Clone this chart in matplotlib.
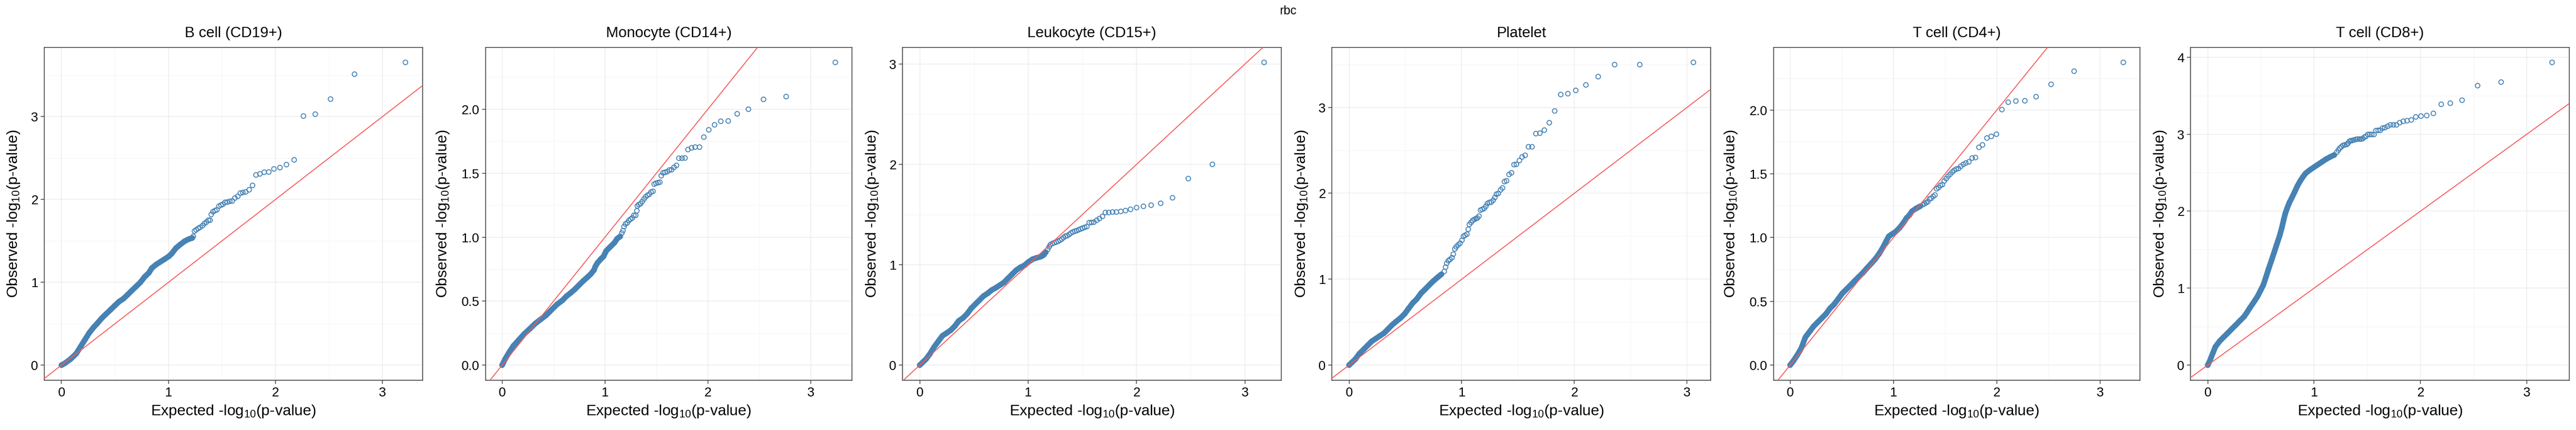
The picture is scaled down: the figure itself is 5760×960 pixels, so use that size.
import matplotlib.pyplot as plt
from matplotlib.ticker import MultipleLocator, FormatStrFormatter

plt.rcParams['font.family'] = ['Liberation Sans', 'DejaVu Sans']
plt.rcParams['mathtext.default'] = 'regular'

# panel titles, in the order they appear
cellNames = ['B cell (CD19+)', 'Monocyte (CD14+)', 'Leukocyte (CD15+)',
             'Platelet', 'T cell (CD4+)', 'T cell (CD8+)']

# each panel: dense part of the QQ curve (band) and the separate tail points
# values are expected / observed -log10(p)

# B cell (CD19+)
bcell_band_x = [0, 0.032, 0.085, 0.138, 0.178, 0.218, 0.258, 0.298, 0.338, 0.378, 0.418, 0.458,
                0.498, 0.538, 0.578, 0.618, 0.657, 0.697, 0.737, 0.777, 0.817, 0.844, 0.884,
                0.924, 0.964, 1.003, 1.030, 1.070, 1.110, 1.150, 1.190, 1.222]
bcell_band_y = [0, 0.023, 0.073, 0.139, 0.222, 0.304, 0.387, 0.453, 0.509, 0.569, 0.619, 0.668,
                0.718, 0.767, 0.801, 0.850, 0.900, 0.949, 0.999, 1.065, 1.115, 1.171, 1.214,
                1.247, 1.280, 1.313, 1.346, 1.413, 1.456, 1.495, 1.522, 1.535]
bcell_tail_x = [3.215, 2.739, 2.515, 2.372, 2.262, 2.175, 2.103, 2.042, 1.986, 1.938, 1.895,
                1.855, 1.818, 1.786, 1.754, 1.722, 1.695, 1.672, 1.648, 1.621, 1.597, 1.573,
                1.549, 1.528, 1.509, 1.491, 1.472, 1.453, 1.435, 1.416, 1.400, 1.389, 1.373,
                1.355, 1.336, 1.318, 1.296, 1.278, 1.259, 1.243, 1.232]
bcell_tail_y = [3.655, 3.513, 3.212, 3.030, 3.007, 2.478, 2.421, 2.385, 2.369, 2.332, 2.329,
                2.309, 2.296, 2.170, 2.117, 2.091, 2.084, 2.077, 2.038, 2.018, 1.982, 1.978,
                1.968, 1.965, 1.942, 1.932, 1.919, 1.876, 1.866, 1.852, 1.819, 1.750, 1.750,
                1.727, 1.710, 1.684, 1.664, 1.651, 1.634, 1.618, 1.555]

# Monocyte (CD14+)
mono_band_x = [0, 0.029, 0.069, 0.109, 0.162, 0.215, 0.268, 0.322, 0.375, 0.428, 0.481, 0.534,
               0.587, 0.627, 0.667, 0.707, 0.747, 0.787, 0.826, 0.861, 0.893, 0.906, 0.925,
               0.959, 0.986, 1.012, 1.052, 1.092, 1.119, 1.148]
mono_band_y = [0, 0.047, 0.101, 0.150, 0.197, 0.244, 0.283, 0.325, 0.358, 0.390, 0.433, 0.475,
               0.507, 0.540, 0.565, 0.593, 0.625, 0.657, 0.685, 0.711, 0.743, 0.771, 0.797,
               0.829, 0.850, 0.893, 0.925, 0.957, 0.989, 1.006]
mono_tail_x = [3.239, 2.761, 2.541, 2.394, 2.285, 2.198, 2.126, 2.065, 2.009, 1.961, 1.919,
               1.876, 1.842, 1.807, 1.778, 1.749, 1.719, 1.695, 1.671, 1.648, 1.626, 1.605,
               1.584, 1.565, 1.547, 1.533, 1.515, 1.496, 1.478, 1.467, 1.448, 1.432, 1.414,
               1.395, 1.379, 1.361, 1.345, 1.329, 1.315, 1.310, 1.299, 1.281, 1.265, 1.249,
               1.233, 1.217, 1.199, 1.185, 1.175, 1.164]
mono_tail_y = [2.366, 2.099, 2.077, 2.000, 1.964, 1.908, 1.906, 1.878, 1.839, 1.782, 1.704,
               1.704, 1.698, 1.685, 1.619, 1.617, 1.617, 1.561, 1.546, 1.527, 1.525, 1.512,
               1.507, 1.503, 1.480, 1.430, 1.426, 1.422, 1.415, 1.358, 1.353, 1.336, 1.328,
               1.315, 1.298, 1.278, 1.261, 1.255, 1.244, 1.206, 1.171, 1.171, 1.150, 1.141,
               1.131, 1.113, 1.103, 1.083, 1.051, 1.032]

# Leukocyte (CD15+)
leuko_band_x = [0, 0.058, 0.096, 0.134, 0.172, 0.209, 0.247, 0.285, 0.323, 0.361, 0.399, 0.437,
                0.474, 0.512, 0.550, 0.588, 0.626, 0.664, 0.701, 0.739, 0.777, 0.815, 0.853,
                0.891, 0.929, 0.966, 1.004, 1.042, 1.080, 1.118, 1.143, 1.163]
leuko_band_y = [0, 0.060, 0.115, 0.183, 0.238, 0.292, 0.319, 0.347, 0.388, 0.442, 0.470, 0.511,
                0.565, 0.606, 0.647, 0.688, 0.715, 0.748, 0.770, 0.797, 0.824, 0.865, 0.906,
                0.947, 0.975, 0.994, 1.029, 1.056, 1.070, 1.081, 1.097, 1.125]
leuko_tail_x = [3.177, 2.700, 2.478, 2.332, 2.223, 2.135, 2.064, 2.001, 1.945, 1.898, 1.855,
                1.814, 1.779, 1.744, 1.713, 1.686, 1.658, 1.633, 1.607, 1.585, 1.564, 1.542,
                1.522, 1.501, 1.484, 1.466, 1.448, 1.431, 1.413, 1.395, 1.378, 1.360, 1.345,
                1.327, 1.310, 1.294, 1.277, 1.259, 1.241, 1.224, 1.206, 1.194, 1.181]
leuko_tail_y = [3.017, 2.001, 1.859, 1.668, 1.613, 1.594, 1.583, 1.570, 1.553, 1.540, 1.532,
                1.526, 1.526, 1.521, 1.521, 1.482, 1.461, 1.444, 1.425, 1.422, 1.420, 1.381,
                1.373, 1.365, 1.357, 1.349, 1.340, 1.335, 1.327, 1.316, 1.302, 1.289, 1.286,
                1.272, 1.256, 1.245, 1.234, 1.226, 1.220, 1.212, 1.201, 1.179, 1.152]

# Platelet
plt_band_x = [0, 0.056, 0.092, 0.129, 0.165, 0.201, 0.238, 0.274, 0.311, 0.347, 0.383, 0.420,
              0.456, 0.493, 0.529, 0.566, 0.602, 0.638, 0.675, 0.711, 0.748, 0.784, 0.820]
plt_band_y = [0, 0.070, 0.134, 0.182, 0.230, 0.277, 0.309, 0.341, 0.373, 0.421, 0.469, 0.510,
              0.548, 0.596, 0.660, 0.724, 0.771, 0.835, 0.883, 0.931, 0.979, 1.020, 1.058]
plt_tail_x = [3.056, 2.580, 2.357, 2.211, 2.102, 2.012, 1.942, 1.879, 1.825, 1.777, 1.733,
              1.694, 1.658, 1.624, 1.592, 1.563, 1.536, 1.512, 1.485, 1.464, 1.442, 1.420,
              1.398, 1.379, 1.362, 1.345, 1.325, 1.308, 1.294, 1.279, 1.262, 1.245, 1.228,
              1.214, 1.199, 1.182, 1.167, 1.153, 1.138, 1.126, 1.112, 1.097, 1.083, 1.068,
              1.058, 1.046, 1.029, 1.015, 1.002, 0.985, 0.968, 0.951, 0.939, 0.925, 0.913,
              0.896, 0.881, 0.867, 0.857, 0.845]
plt_tail_y = [3.523, 3.497, 3.497, 3.357, 3.261, 3.197, 3.159, 3.149, 2.958, 2.821, 2.735,
              2.700, 2.694, 2.541, 2.541, 2.442, 2.423, 2.381, 2.337, 2.333, 2.238, 2.219,
              2.145, 2.136, 2.062, 2.040, 1.999, 1.989, 1.951, 1.919, 1.897, 1.894, 1.881,
              1.849, 1.823, 1.814, 1.804, 1.734, 1.712, 1.705, 1.696, 1.683, 1.661, 1.638,
              1.581, 1.524, 1.511, 1.498, 1.454, 1.419, 1.399, 1.377, 1.352, 1.291, 1.250,
              1.230, 1.215, 1.186, 1.141, 1.090]

# T cell (CD4+)
cd4_band_x = [0, 0.029, 0.069, 0.108, 0.148, 0.188, 0.228, 0.267, 0.307, 0.347, 0.386, 0.426,
              0.466, 0.505, 0.545, 0.585, 0.624, 0.664, 0.704, 0.743, 0.783, 0.823, 0.862,
              0.902, 0.929, 0.955, 0.981, 1.021, 1.061, 1.101, 1.127, 1.153, 1.180, 1.220, 1.259]
cd4_band_y = [0, 0.030, 0.079, 0.133, 0.219, 0.262, 0.305, 0.337, 0.369, 0.402, 0.445, 0.477,
              0.520, 0.563, 0.595, 0.627, 0.660, 0.692, 0.724, 0.760, 0.795, 0.831, 0.874,
              0.928, 0.971, 1.010, 1.025, 1.046, 1.078, 1.121, 1.154, 1.175, 1.207, 1.229, 1.246]
cd4_tail_x = [3.225, 2.749, 2.526, 2.381, 2.272, 2.185, 2.111, 2.050, 1.997, 1.947, 1.905,
              1.862, 1.828, 1.794, 1.762, 1.730, 1.701, 1.677, 1.653, 1.630, 1.608, 1.587,
              1.569, 1.548, 1.529, 1.511, 1.492, 1.474, 1.455, 1.437, 1.418, 1.402, 1.384,
              1.365, 1.349, 1.333, 1.317, 1.302, 1.286]
cd4_tail_y = [2.374, 2.305, 2.202, 2.105, 2.073, 2.071, 2.062, 2.004, 1.811, 1.794, 1.781,
              1.727, 1.708, 1.628, 1.624, 1.594, 1.585, 1.575, 1.560, 1.542, 1.538, 1.527,
              1.514, 1.497, 1.482, 1.463, 1.444, 1.416, 1.409, 1.392, 1.383, 1.334, 1.323,
              1.308, 1.304, 1.282, 1.274, 1.267, 1.259]

# T cell (CD8+)
cd8_band_x = [0, 0.021, 0.046, 0.072, 0.111, 0.149, 0.188, 0.226, 0.265, 0.303, 0.342, 0.368,
              0.393, 0.419, 0.445, 0.470, 0.496, 0.522, 0.548, 0.573, 0.599, 0.625, 0.650,
              0.676, 0.697, 0.715, 0.728, 0.746, 0.766, 0.792, 0.817, 0.843, 0.869, 0.895,
              0.920, 0.959, 0.997, 1.036, 1.075, 1.113, 1.152, 1.190]
cd8_band_y = [0, 0.060, 0.149, 0.238, 0.310, 0.363, 0.416, 0.470, 0.523, 0.577, 0.630, 0.683,
              0.737, 0.790, 0.843, 0.897, 0.968, 1.039, 1.146, 1.253, 1.359, 1.466, 1.573,
              1.680, 1.786, 1.893, 1.964, 2.036, 2.107, 2.178, 2.249, 2.327, 2.391, 2.445,
              2.491, 2.534, 2.569, 2.605, 2.641, 2.676, 2.705, 2.730]
cd8_tail_x = [3.237, 2.758, 2.537, 2.391, 2.280, 2.195, 2.121, 2.059, 2.005, 1.956, 1.913,
              1.874, 1.838, 1.805, 1.774, 1.746, 1.717, 1.692, 1.666, 1.643, 1.622, 1.602,
              1.581, 1.563, 1.542, 1.524, 1.506, 1.488, 1.473, 1.458, 1.442, 1.427, 1.409,
              1.393, 1.375, 1.360, 1.344, 1.332, 1.319, 1.306, 1.288, 1.272, 1.257, 1.242,
              1.229, 1.213]
cd8_tail_y = [3.932, 3.676, 3.630, 3.441, 3.402, 3.388, 3.270, 3.242, 3.235, 3.224, 3.185,
              3.174, 3.167, 3.149, 3.121, 3.121, 3.121, 3.103, 3.085, 3.078, 3.050, 3.050,
              3.046, 2.996, 2.996, 2.996, 2.996, 2.972, 2.961, 2.943, 2.936, 2.936, 2.936,
              2.932, 2.925, 2.918, 2.915, 2.907, 2.883, 2.865, 2.861, 2.854, 2.836, 2.819,
              2.794, 2.765]

panelData = [
    (bcell_band_x, bcell_band_y, bcell_tail_x, bcell_tail_y, 1.0),
    (mono_band_x, mono_band_y, mono_tail_x, mono_tail_y, 0.5),
    (leuko_band_x, leuko_band_y, leuko_tail_x, leuko_tail_y, 1.0),
    (plt_band_x, plt_band_y, plt_tail_x, plt_tail_y, 1.0),
    (cd4_band_x, cd4_band_y, cd4_tail_x, cd4_tail_y, 0.5),
    (cd8_band_x, cd8_band_y, cd8_tail_x, cd8_tail_y, 1.0),
]

# layout in pixels (figure is 5760 x 960, each plot gets a 960 px cell)
W, H = 5760, 960
cellW = 960
axTop, axBottom, axRight = 105.5, 849.0, 945.0

pointColor = '#4682B4'
lineColor = '#F85A5A'
dark = '#333333'


def plotQQ(ax, titleName, bandX, bandY, tailX, tailY, yStep, leftOff):
    # dense part drawn as a thick trace so the overlapping circles look solid
    ax.plot(bandX, bandY, color=pointColor, lw=9.0, solid_capstyle='round',
            solid_joinstyle='round', zorder=2)
    ax.scatter(bandX + tailX, bandY + tailY, s=55, facecolors='none',
               edgecolors=pointColor, linewidths=1.45, zorder=3)
    ax.axline((0, 0), slope=1, color=lineColor, lw=1.5, zorder=4)

    allX = bandX + tailX
    allY = bandY + tailY
    dx = (max(allX) - min(allX)) * 0.05
    dy = (max(allY) - min(allY)) * 0.05
    ax.set_xlim(min(allX) - dx, max(allX) + dx)
    ax.set_ylim(min(allY) - dy, max(allY) + dy)

    ax.xaxis.set_major_locator(MultipleLocator(1))
    ax.xaxis.set_minor_locator(MultipleLocator(0.5))
    ax.yaxis.set_major_locator(MultipleLocator(yStep))
    ax.yaxis.set_minor_locator(MultipleLocator(yStep / 2))
    if yStep < 1:
        ax.yaxis.set_major_formatter(FormatStrFormatter('%.1f'))
    else:
        ax.yaxis.set_major_formatter(FormatStrFormatter('%d'))

    ax.set_axisbelow(True)
    ax.grid(which='major', color='#EBEBEB', lw=1.1)
    ax.grid(which='minor', color='#F3F3F3', lw=0.7)
    for sp in ax.spines.values():
        sp.set_color(dark)
        sp.set_linewidth(1.2)
    ax.tick_params(which='major', length=5.8, width=1.1, color=dark,
                   labelsize=21, labelcolor='black', pad=4)
    ax.tick_params(which='minor', length=0)

    ax.set_title(titleName, fontsize=24, pad=16)
    ax.set_xlabel('Expected -log$_{10}$(p-value)', fontsize=24.5, va='center')
    ax.set_ylabel('Observed -log$_{10}$(p-value)', fontsize=24.5, va='center')
    axW = axRight - leftOff
    ax.xaxis.set_label_coords(0.5, (axBottom - 918) / (axBottom - axTop))
    ax.yaxis.set_label_coords((31 - leftOff) / axW, 0.5)


leftOffsets = [99, 125.5, 98, 98, 125.5, 98]

fig = plt.figure(figsize=(W / 100, H / 100), dpi=100)
for i, name in enumerate(cellNames):
    bx, by, tx, ty, step = panelData[i]
    left = i * cellW + leftOffsets[i]
    right = i * cellW + axRight
    ax = fig.add_axes([left / W, 1 - axBottom / H, (right - left) / W,
                       (axBottom - axTop) / H])
    plotQQ(ax, name, bx, by, tx, ty, step, leftOffsets[i])

fig.text(0.5, 1 - 32.3 / H, 'rbc', ha='center', va='baseline', fontsize=19.5)

fig.savefig('out.png', dpi=100)
